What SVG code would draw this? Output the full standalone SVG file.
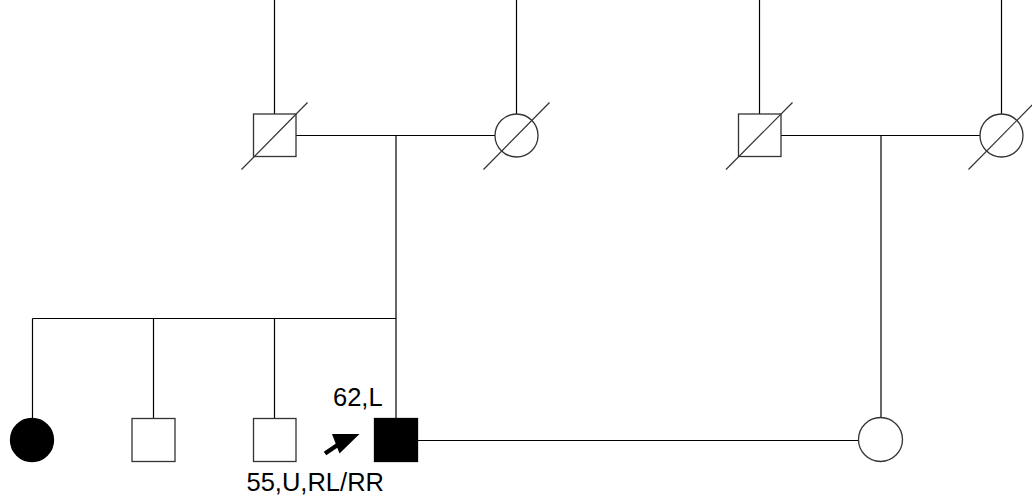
<svg xmlns="http://www.w3.org/2000/svg" width="1032" height="502" viewBox="0 0 1032 502">
<style>
.ln{stroke:#000;stroke-width:1.2;fill:none}
.sym{stroke:#333;stroke-width:1.3;fill:#fff}
.aff{fill:#000;stroke:#000;stroke-width:1.3}
.dec{stroke:#333;stroke-width:1.2}
.lbl{font-family:"Liberation Sans",Arial,sans-serif;font-size:25.5px;fill:#000}
</style>
<rect width="1032" height="502" fill="#fff"/>
<g id="connectors">
<line class="ln" x1="274.5" y1="0" x2="274.5" y2="114"/>
<line class="ln" x1="516.5" y1="0" x2="516.5" y2="114"/>
<line class="ln" x1="759.5" y1="0" x2="759.5" y2="114"/>
<line class="ln" x1="1001.5" y1="0" x2="1001.5" y2="114"/>
<line class="ln" x1="296" y1="135.5" x2="495" y2="135.5"/>
<line class="ln" x1="781" y1="135.5" x2="980" y2="135.5"/>
<line class="ln" x1="396" y1="135.5" x2="396" y2="418"/>
<line class="ln" x1="881" y1="135.5" x2="881" y2="418"/>
<line class="ln" x1="32.5" y1="318.5" x2="396" y2="318.5"/>
<line class="ln" x1="32.5" y1="318.5" x2="32.5" y2="418"/>
<line class="ln" x1="153.5" y1="318.5" x2="153.5" y2="418"/>
<line class="ln" x1="274.5" y1="318.5" x2="274.5" y2="418"/>
<line class="ln" x1="418" y1="440.5" x2="858.5" y2="440.5"/>
</g>
<g id="gf1">
<rect class="sym" x="253.5" y="114" width="42.5" height="42.5"/>
<line class="dec" x1="241.5" y1="169.5" x2="307.5" y2="102.5"/>
</g>
<g id="gm1">
<circle class="sym" cx="516.5" cy="135.5" r="21.5"/>
<line class="dec" x1="483.5" y1="169.5" x2="549.5" y2="102.5"/>
</g>
<g id="gf2">
<rect class="sym" x="738.5" y="114" width="42.5" height="42.5"/>
<line class="dec" x1="726" y1="169.5" x2="792.5" y2="102.5"/>
</g>
<g id="gm2">
<circle class="sym" cx="1001.5" cy="135.5" r="21.5"/>
<line class="dec" x1="968.5" y1="169.5" x2="1035" y2="102"/>
</g>
<g id="sister">
<circle class="aff" cx="32" cy="440" r="21.5"/>
</g>
<g id="brother1">
<rect class="sym" x="132" y="418.5" width="43" height="43"/>
</g>
<g id="brother2">
<rect class="sym" x="253.5" y="418.5" width="42.5" height="43"/>
<text class="lbl" x="246.5" y="491">55,U,RL/RR</text>
</g>
<g id="proband">
<rect class="aff" x="374.5" y="418.5" width="43" height="43"/>
<text class="lbl" x="333" y="406">62,L</text>
<line x1="325" y1="453.5" x2="342" y2="442" stroke="#000" stroke-width="4.5"/>
<polygon points="332,434 359.5,434 339.5,453.5" fill="#000"/>
</g>
<g id="wife">
<circle class="sym" cx="880.5" cy="439.5" r="22"/>
</g>
</svg>
